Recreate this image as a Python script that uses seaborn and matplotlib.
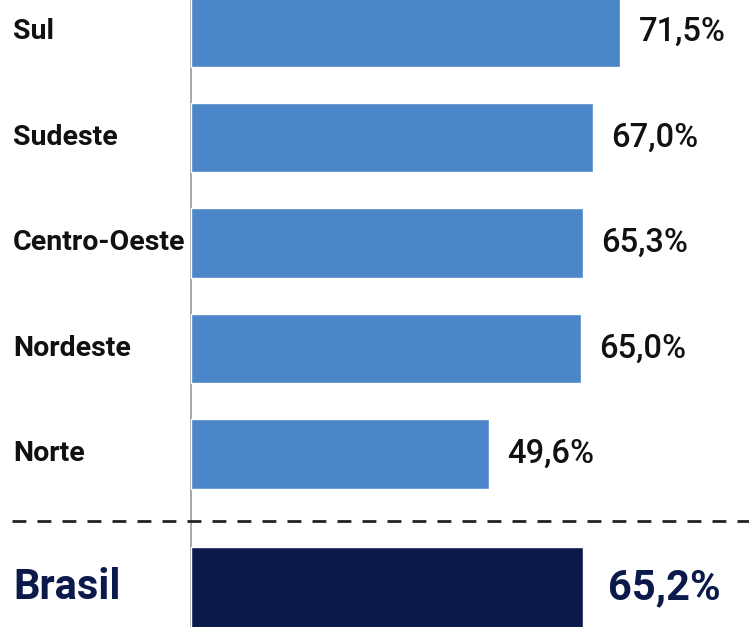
import matplotlib
matplotlib.use("Agg")
import matplotlib.pyplot as plt
import seaborn as sns
import pandas as pd

# Regional values (%) and the national total
regioes = ["Sul", "Sudeste", "Centro-Oeste", "Nordeste", "Norte"]
valores = [71.5, 67.0, 65.3, 65.0, 49.6]
total_nome = "Brasil"
total_valor = 65.2

cor_regiao = "#4A86C8"
cor_total = "#0B1A4A"

sns.set_theme(style="white")
plt.rcParams["font.family"] = ["Roboto", "DejaVu Sans"]

df = pd.DataFrame({"regiao": regioes, "valor": valores})

fig = plt.figure(figsize=(7.49, 6.27), dpi=100)
ax = fig.add_axes([0, 0, 1, 1])

sns.barplot(data=df, x="valor", y="regiao", orient="h", color=cor_regiao,
            width=0.655, saturation=1, ax=ax, zorder=2)

pos_total = 5.27
ax.barh(pos_total, total_valor, height=0.78, color=cor_total, zorder=2)

# Axis baseline and separator before the total
ax.axvline(0, color="#9a9a9a", lw=1.2, zorder=1)
ax.axhline(4.64, xmin=12 / 749, xmax=1, color="#222222", lw=2,
           dashes=(5, 4), zorder=1)

ax.set_xlim(-31.8, 92.9)
ax.set_ylim(5.64, -0.303)
ax.axis("off")

x_rotulo = -29.6
for i, (nome, v) in enumerate(zip(regioes, valores)):
    ax.text(x_rotulo, i, nome, ha="left", va="center", fontsize=20.5,
            fontweight="bold", color="#111111")
    ax.text(v + 3.0, i, f"{v:.1f}%".replace(".", ","), ha="left",
            va="center", fontsize=23.5, fontweight="medium", color="#111111")

ax.text(x_rotulo, pos_total, total_nome, ha="left", va="center",
        fontsize=30, fontweight="bold", color=cor_total)
ax.text(total_valor + 4.2, pos_total, f"{total_valor:.1f}%".replace(".", ","),
        ha="left", va="center", fontsize=30, fontweight="bold", color=cor_total)

fig.savefig("out.png", dpi=100)
